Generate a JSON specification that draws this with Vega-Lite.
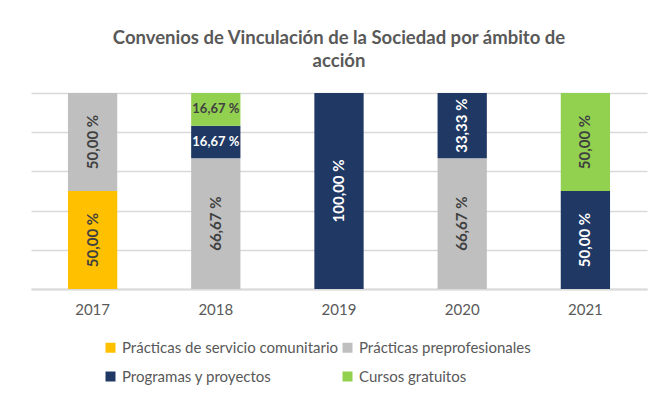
{
  "$schema": "https://vega.github.io/schema/vega-lite/v6.json",
  "width": 616,
  "height": 196,
  "autosize": {"type": "none"},
  "padding": {"left": 31, "top": 93, "right": 22, "bottom": 112},
  "background": "white",
  "config": {
    "font": "Lato",
    "view": {"stroke": null}
  },
  "title": {
    "text": ["Convenios de Vinculación de la Sociedad por ámbito de", "acción"],
    "font": "Lato",
    "fontSize": 18.5,
    "fontWeight": "bold",
    "color": "#595959",
    "anchor": "middle",
    "lineHeight": 23,
    "offset": 22
  },
  "data": {
    "values": [
      {"anio": "2017", "ambito": "Prácticas de servicio comunitario", "orden": 1, "valor": 50, "etiqueta": "50,00 %"},
      {"anio": "2017", "ambito": "Prácticas preprofesionales", "orden": 2, "valor": 50, "etiqueta": "50,00 %"},
      {"anio": "2018", "ambito": "Prácticas preprofesionales", "orden": 2, "valor": 66.67, "etiqueta": "66,67 %"},
      {"anio": "2018", "ambito": "Programas y proyectos", "orden": 3, "valor": 16.67, "etiqueta": "16,67 %"},
      {"anio": "2018", "ambito": "Cursos gratuitos", "orden": 4, "valor": 16.67, "etiqueta": "16,67 %"},
      {"anio": "2019", "ambito": "Programas y proyectos", "orden": 3, "valor": 100, "etiqueta": "100,00 %"},
      {"anio": "2020", "ambito": "Prácticas preprofesionales", "orden": 2, "valor": 66.67, "etiqueta": "66,67 %"},
      {"anio": "2020", "ambito": "Programas y proyectos", "orden": 3, "valor": 33.33, "etiqueta": "33,33 %"},
      {"anio": "2021", "ambito": "Programas y proyectos", "orden": 3, "valor": 50, "etiqueta": "50,00 %"},
      {"anio": "2021", "ambito": "Cursos gratuitos", "orden": 4, "valor": 50, "etiqueta": "50,00 %"}
    ]
  },
  "encoding": {
    "x": {
      "field": "anio",
      "type": "nominal",
      "title": null,
      "scale": {"paddingInner": 0.6, "paddingOuter": 0.3},
      "axis": {
        "labelAngle": 0,
        "labelFont": "Lato",
        "labelFontSize": 15,
        "labelColor": "#595959",
        "labelPadding": 13,
        "ticks": false,
        "domainColor": "#D9D9D9",
        "domainWidth": 2
      }
    },
    "y": {
      "field": "valor",
      "type": "quantitative",
      "stack": "zero",
      "title": null,
      "scale": {"domain": [0, 100], "nice": false},
      "axis": {
        "values": [0, 20, 40, 60, 80, 100],
        "labels": false,
        "ticks": false,
        "domain": false,
        "grid": true,
        "gridColor": "#D9D9D9",
        "gridWidth": 1.5
      }
    },
    "order": {"field": "orden", "type": "quantitative", "sort": "ascending"}
  },
  "layer": [
    {
      "mark": {"type": "bar"},
      "encoding": {
        "color": {
          "field": "ambito",
          "type": "nominal",
          "scale": {
            "domain": ["Prácticas de servicio comunitario", "Prácticas preprofesionales", "Programas y proyectos", "Cursos gratuitos"],
            "range": ["#FFC000", "#BFBFBF", "#1F3864", "#92D050"]
          },
          "legend": {
            "title": null,
            "orient": "none",
            "legendX": 72,
            "legendY": 247,
            "direction": "horizontal",
            "columns": 2,
            "symbolType": "square",
            "symbolSize": 100,
            "symbolStrokeWidth": 0,
            "labelFont": "Lato",
            "labelFontSize": 15,
            "labelColor": "#595959",
            "labelOffset": 4,
            "columnPadding": 1,
            "rowPadding": 13,
            "labelLimit": 300
          }
        }
      }
    },
    {
      "mark": {"type": "text", "font": "Lato", "fontWeight": "bold", "baseline": "middle", "align": "center"},
      "encoding": {
        "y": {"field": "valor", "type": "quantitative", "stack": "zero", "bandPosition": 0.5},
        "text": {"field": "etiqueta"},
        "angle": {"condition": {"test": "datum.valor < 20", "value": 0}, "value": 270},
        "size": {"condition": {"test": "datum.valor < 20", "value": 13}, "value": 15},
        "color": {"condition": {"test": "datum.ambito === 'Programas y proyectos'", "value": "#FFFFFF"}, "value": "#404040"}
      }
    }
  ]
}
